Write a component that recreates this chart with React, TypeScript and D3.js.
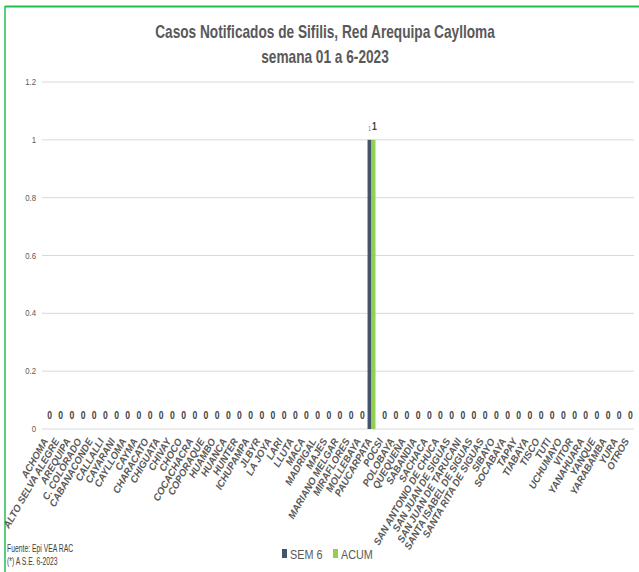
import React from "react";
import * as d3 from "d3";

const categories = ["ACHOMA","ALTO SELVA ALEGRE","AREQUIPA","C. COLORADO","CABANACONDE","CALLALLI","CAYARANI","CAYLLOMA","CAYMA","CHARACATO","CHIGUATA","CHIVAY","CHOCO","COCACHACRA","COPORAQUE","HUAMBO","HUANCA","HUNTER","ICHUPAMPA","JLBYR","LA JOYA","LARI","LLUTA","MACA","MADRIGAL","MAJES","MARIANO MELGAR","MIRAFLORES","MOLLEBAYA","PAUCARPATA","POCSI","POLOBAYA","QUEQUEÑA","SABANDIA","SACHACA","SAN ANTONIO DE CHUCA","SAN JUAN DE SIGUAS","SAN JUAN DE TARUCANI","SANTA ISABEL DE SIGUAS","SANTA RITA DE SIGUAS","SIBAYO","SOCABAYA","TAPAY","TIABAYA","TISCO","TUTI","UCHUMAYO","VITOR","YANAHUARA","YANQUE","YARABAMBA","YURA","OTROS"];
const sem6 = [0,0,0,0,0,0,0,0,0,0,0,0,0,0,0,0,0,0,0,0,0,0,0,0,0,0,0,0,0,1,0,0,0,0,0,0,0,0,0,0,0,0,0,0,0,0,0,0,0,0,0,0,0];
const acum = [0,0,0,0,0,0,0,0,0,0,0,0,0,0,0,0,0,0,0,0,0,0,0,0,0,0,0,0,0,1,0,0,0,0,0,0,0,0,0,0,0,0,0,0,0,0,0,0,0,0,0,0,0];
const yTicks = [0, 0.2, 0.4, 0.6, 0.8, 1, 1.2];
const seriesNames = ["SEM 6", "ACUM"];
const titleLines = ["Casos Notificados de Sifilis, Red Arequipa Caylloma", "semana 01 a 6-2023"];
const footnotes = ["Fuente:  Epi VEA RAC", "(*) A S.E. 6-2023"];

const COLORS = ["#44546A", "#92D050"];
const FONT = "'Liberation Sans', Arial, sans-serif";

type CTProps = {
  x: number; y: number; sx?: number; rot?: number; anchor?: string;
  size: number; weight?: string; italic?: boolean; fill: string; children: React.ReactNode;
};
function CText({ x, y, sx = 0.82, rot = 0, anchor = "start", size, weight = "normal", italic = false, fill, children }: CTProps) {
  return (
    <text
      transform={`translate(${x},${y}) rotate(${rot}) scale(${sx},1)`}
      textAnchor={anchor}
      fontSize={size}
      fontWeight={weight}
      fontStyle={italic ? "italic" : "normal"}
      fill={fill}
    >
      {children}
    </text>
  );
}

export default function App() {
  const W = 639, H = 572;
  const left = 42, right = 634, top = 82, bottom = 429;
  const x = d3.scaleBand<string>().domain(categories).range([left, right]).paddingInner(0.29).paddingOuter(0.145);
  const sub = d3.scaleBand<string>().domain(seriesNames).range([0, x.bandwidth()]);
  const y = d3.scaleLinear().domain([0, 1.2]).range([bottom, top]);
  const series = [sem6, acum];
  const barCenter = (si: number, i: number) =>
    (x(categories[i]) ?? 0) + (sub(seriesNames[si]) ?? 0) + sub.bandwidth() / 2;

  return (
    <svg width={W} height={H} style={{ position: "absolute", left: 0, top: 0, background: "#fff" }} fontFamily={FONT}>
      <rect x={0} y={0} width={W} height={H} fill="#fff" />
      {/* green frame */}
      <line x1={5} y1={6.5} x2={W} y2={6.5} stroke="#1FBF4F" strokeWidth={2} />
      <line x1={5} y1={6} x2={5} y2={H} stroke="#1FBF4F" strokeWidth={1.5} />

      {titleLines.map((t, i) => (
        <CText key={t} x={325} y={38 + i * 25} sx={0.76} anchor="middle" size={18} weight="bold" fill="#595959">{t}</CText>
      ))}

      {yTicks.map((t) => (
        <g key={t}>
          <line x1={left} x2={right} y1={y(t)} y2={y(t)} stroke="#D9D9D9" strokeWidth={1} />
          <CText x={36} y={y(t) + 3} anchor="end" size={9.5} fill="#595959">{t}</CText>
        </g>
      ))}

      {series.map((vals, si) =>
        vals.map((v, i) => (
          <rect key={`b${si}-${i}`} x={(x(categories[i]) ?? 0) + (sub(seriesNames[si]) ?? 0)} y={y(v)} width={sub.bandwidth()} height={bottom - y(v)} fill={COLORS[si]} />
        ))
      )}

      {/* value labels */}
      {sem6.map((v, i) => v > 0 ? (
        <CText key={`ls${i}`} x={barCenter(0, i)} y={y(v) - 9} anchor="middle" size={7} fill="#7f7f7f">{v}</CText>
      ) : null)}
      {acum.map((v, i) => (
        <CText key={`la${i}`} x={barCenter(1, i) + (v > 0 ? 1 : 0)} y={y(v) - 10} anchor="middle" size={10.5} weight="bold" fill="#404040">{v}</CText>
      ))}

      {/* category labels */}
      {categories.map((c) => {
        const cx = (x(c) ?? 0) + x.bandwidth() / 2 + 1;
        return (
          <CText key={c} x={cx} y={bottom + 12} rot={-60} sx={0.97} anchor="end" size={10} weight="bold" italic fill="#595959">{c}</CText>
        );
      })}

      {/* legend */}
      {seriesNames.map((s, i) => {
        const lx = 282 + i * 51;
        return (
          <g key={s}>
            <rect x={lx} y={549} width={5} height={9} fill={COLORS[i]} />
            <CText x={lx + 8} y={559} sx={0.8} size={13.5} fill="#595959">{s}</CText>
          </g>
        );
      })}

      {footnotes.map((f, i) => (
        <CText key={f} x={7} y={552 + i * 13} sx={0.68} size={10} fill="#404040">{f}</CText>
      ))}
    </svg>
  );
}
